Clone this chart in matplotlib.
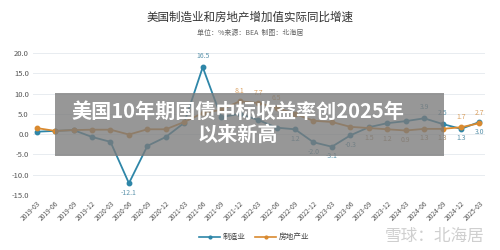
import matplotlib
matplotlib.use("Agg")
import matplotlib.pyplot as plt
from matplotlib.patches import Rectangle

plt.rcParams['font.family'] = ['Noto Sans CJK SC', 'DejaVu Sans']

quarters = ["2019-03", "2019-06", "2019-09", "2019-12", "2020-03", "2020-06", "2020-09",
            "2020-12", "2021-03", "2021-06", "2021-09", "2021-12", "2022-03", "2022-06",
            "2022-09", "2022-12", "2023-03", "2023-06", "2023-09", "2023-12", "2024-03",
            "2024-06", "2024-09", "2024-12", "2025-03"]
manufacturing = [0.6, 0.8, 1.0, -0.7, -1.9, -12.1, -2.9, -0.7, 2.8, 16.5, 4.2, 5.0, 3.5,
                 1.6, 1.2, -2.0, -3.1, -0.3, 1.7, 2.7, 3.2, 3.9, 2.5, 1.3, 3.0]
real_estate = [1.5, 0.8, 1.0, 1.1, 1.1, -0.1, 1.2, 1.2, 3.0, 5.2, 6.0, 8.1, 7.7, 6.5,
               5.0, 3.3, 3.0, 1.8, 1.5, 1.2, 0.9, 1.3, 1.3, 1.7, 2.7]
yticks = [-15, -10, -5, 0, 5, 10, 15, 20]

# indices of points whose value labels are shown (and side)
manu_labels_above = [9, 21, 22]
manu_labels_below = [5, 14, 15, 16, 17, 23, 24]
re_labels_above = [11, 12, 13, 23, 24]
re_labels_below = [18, 19, 20, 21, 22]

blue = "#2e86a8"
orange = "#d98a30"

fig = plt.figure(figsize=(5, 2.5), dpi=100)
fig.patch.set_facecolor("white")
ax = fig.add_axes([0.066, 0.22, 0.904, 0.568])

x = list(range(len(quarters)))
ax.plot(x, manufacturing, color=blue, lw=1.3, marker='o', ms=3.2, zorder=3)
ax.plot(x, real_estate, color=orange, lw=1.3, marker='o', ms=3.2, zorder=3)

for i in manu_labels_above:
    ax.annotate(f"{manufacturing[i]:.1f}", (i, manufacturing[i]), xytext=(0, 5),
                textcoords="offset points", ha="center", va="bottom", fontsize=5, color="#5b93ab")
for i in manu_labels_below:
    ax.annotate(f"{manufacturing[i]:.1f}", (i, manufacturing[i]), xytext=(0, -4),
                textcoords="offset points", ha="center", va="top", fontsize=5, color="#5b93ab")
for i in re_labels_above:
    ax.annotate(f"{real_estate[i]:.1f}", (i, real_estate[i]), xytext=(0, 4.5),
                textcoords="offset points", ha="center", va="bottom", fontsize=5, color="#d9a060")
for i in re_labels_below:
    ax.annotate(f"{real_estate[i]:.1f}", (i, real_estate[i]), xytext=(0, -4),
                textcoords="offset points", ha="center", va="top", fontsize=5, color="#b0906a")

ax.set_ylim(-15, 20)
ax.set_xlim(-0.2, 24.3)
ax.set_yticks(yticks)
ax.set_yticklabels([f"{v:.1f}" for v in yticks], fontsize=5.5, color="#555555")
ax.set_xticks(x)
ax.set_xticklabels(quarters, rotation=45, ha="right", rotation_mode="anchor",
                   fontsize=4.8, color="#555555")
ax.tick_params(length=0, pad=3)
ax.grid(axis='y', color="#e8ecf0", lw=0.7)
for s in ax.spines.values():
    s.set_visible(False)

fig.text(0.5, 0.932, "美国制造业和房地产增加值实际同比增速", ha="center", va="center",
         fontsize=8.3, color="#333333", weight="medium")
fig.text(0.5, 0.868, "单位：%来源：BEA  制图：北海居", ha="center", va="center",
         fontsize=5, color="#666666", style="italic")

# legend
ly = 0.052
fig.lines.append(plt.Line2D([0.398, 0.44], [ly, ly], color=blue, lw=1.2, transform=fig.transFigure))
fig.lines.append(plt.Line2D([0.419], [ly], color=blue, marker='o', ms=2, transform=fig.transFigure))
fig.text(0.445, ly, "制造业", fontsize=5.5, va="center", color="#444444")
fig.lines.append(plt.Line2D([0.51, 0.552], [ly, ly], color=orange, lw=1.2, transform=fig.transFigure))
fig.lines.append(plt.Line2D([0.531], [ly], color=orange, marker='o', ms=2, transform=fig.transFigure))
fig.text(0.557, ly, "房地产业", fontsize=5.5, va="center", color="#444444")

# watermark
fig.text(0.97, 0.055, "雪球：北海居", fontsize=12, ha="right", va="center", color="#cfcfcf")

# banner overlay
fig.patches.append(Rectangle((0.11, 0.376), 0.778, 0.252, transform=fig.transFigure,
                             facecolor="#7a7a7a", alpha=0.78, edgecolor="none", zorder=5))
fig.text(0.475, 0.553, "美国10年期国债中标收益率创2025年", ha="center", va="center",
         fontsize=14.5, color="white", weight="bold", zorder=6)
fig.text(0.475, 0.462, "以来新高", ha="center", va="center",
         fontsize=14.5, color="white", weight="bold", zorder=6)

fig.savefig("out.png", dpi=100)
